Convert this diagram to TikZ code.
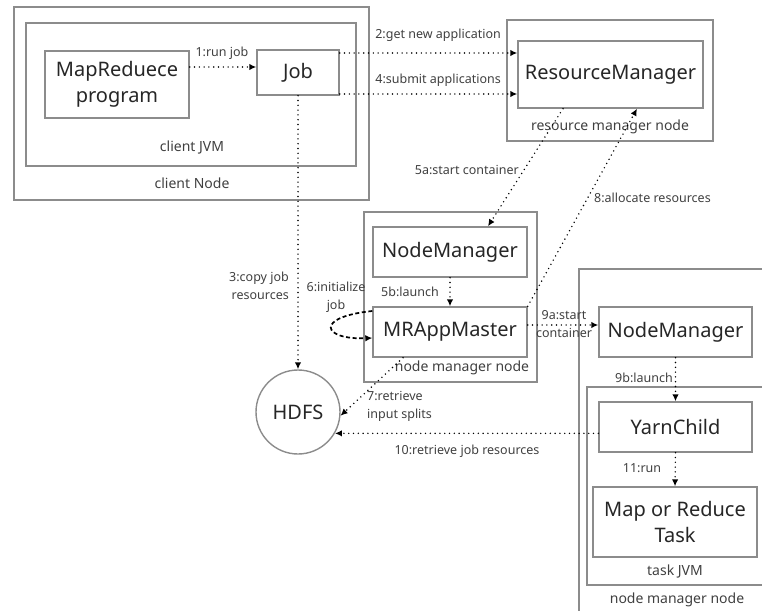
\documentclass[tikz,border=0pt]{standalone}
\usepackage{fontspec}
\setmainfont{Noto Sans}
\usepackage{tikz}
\usetikzlibrary{arrows.meta}

\begin{document}
\begin{tikzpicture}[x=1pt, y=-1pt, >={Latex[length=7pt, width=6.5pt]},
    box/.style={draw=black!45, line width=1.4pt, inner sep=0pt, align=center, text=black!85, font=\fontsize{20}{26}\selectfont},
    frame/.style={draw=black!45, line width=1.4pt, inner sep=0pt},
    tag/.style={text=black!75, font=\fontsize{14}{17}\selectfont, inner sep=0pt},
    lbl/.style={text=black!75, font=\fontsize{12.5}{18}\selectfont, inner sep=0pt},
    flow/.style={->, line width=1.6pt, line cap=round, dash pattern=on 0pt off 4.8pt},
    initflow/.style={->, line width=1.7pt, dash pattern=on 4pt off 2.6pt}]
    \useasboundingbox (0,0) rectangle (762,610);
    \clip (0,0) rectangle (762,610);
    % containers
    \node[frame, minimum width=355pt, minimum height=193pt] (clientnode) at (191.5,103.5) {};
    \node[frame, minimum width=330pt, minimum height=143pt] (clientjvm) at (191,94.5) {};
    \node[frame, minimum width=206pt, minimum height=121pt] (rmnode) at (610,80.5) {};
    \node[frame, minimum width=173pt, minimum height=170pt] (nmnode) at (450.5,297) {};
    \node[frame, minimum width=200pt, minimum height=361pt] (nmnodeb) at (679,449.5) {};
    \node[frame, minimum width=188pt, minimum height=198pt] (taskjvm) at (681,486) {};
    \node[tag] (jvmtag) at (192,148) {client JVM};
    \node[tag] (clienttag) at (192,183) {client Node};
    \node[tag] (rmtag) at (610,127) {resource manager node};
    \node[tag] (nmtag) at (462,368) {node manager node};
    \node[tag] (tasktag) at (675,572) {task JVM};
    \node[tag] (nmtagb) at (677,600) {node manager node};
    % boxes
    \node[box, minimum width=144pt, minimum height=67pt] (mrprog) at (117,84.5) {MapReduece\\program};
    \node[box, minimum width=82pt, minimum height=45pt] (job) at (298,72.5) {Job};
    \node[box, minimum width=185pt, minimum height=67pt] (rm) at (610.5,74.5) {ResourceManager};
    \node[box, minimum width=154pt, minimum height=50pt] (nm) at (450,252) {NodeManager};
    \node[box, minimum width=154pt, minimum height=50pt] (mram) at (450,332) {MRAppMaster};
    \node[box, circle, minimum size=84pt] (hdfs) at (298,412) {HDFS};
    \node[box, minimum width=153pt, minimum height=50pt] (nmb) at (675.5,332) {NodeManager};
    \node[box, minimum width=153pt, minimum height=50pt] (yarn) at (675.5,427) {YarnChild};
    \node[box, minimum width=164pt, minimum height=70pt] (task) at (675,522) {Map or Reduce\\Task};
    % connectors
    \draw[flow] (mrprog.east |- 0,67) -- (job.west |- 0,67);
    \draw[flow] (job.east |- 0,53) -- (rm.west |- 0,53);
    \draw[flow] (job.east |- 0,94) -- (rm.west |- 0,94);
    \draw[flow] (job.south) -- (hdfs.north);
    \draw[flow] (rm.south -| 563,0) -- (nm.north -| 488,0);
    \draw[flow] (nm.south) -- (mram.north);
    \draw[initflow] (mram.west |- 0,311) .. controls (314,317) and (322,340) .. (mram.west |- 0,338);
    \draw[flow] (mram.north east) -- (rm.south -| 637,0);
    \draw[flow] (mram.south -| 403,0) -- (hdfs.-5);
    \draw[flow] (mram.east |- 0,325) -- (nmb.west |- 0,325);
    \draw[flow] (nmb.south) -- (yarn.north);
    \draw[flow] (yarn.west |- hdfs.-30) -- (hdfs.-30);
    \draw[flow] (yarn.south) -- (task.north);
    % labels
    \node[lbl] (l1) at (222,53) {1:run job};
    \node[lbl, anchor=east] (l2) at (501,35) {2:get new application};
    \node[lbl, anchor=east] (l4) at (501,80) {4:submit applications};
    \node[lbl, anchor=east, align=right] (l3) at (289,286) {3:copy job\\resources};
    \node[lbl, anchor=east] (l5a) at (519,170) {5a:start container};
    \node[lbl, anchor=west] (l8) at (594,198) {8:allocate resources};
    \node[lbl] (l5b) at (410,292) {5b:launch};
    \node[lbl, align=center] (l6) at (336,297) {6:initialize\\job};
    \node[lbl, anchor=west, align=left] (l7) at (367,406) {7:retrieve\\input splits};
    \node[lbl] (l10) at (467,451) {10:retrieve job resources};
    \node[lbl, align=center] (l9a) at (564,324) {9a:start\\container};
    \node[lbl, anchor=east] (l9b) at (673,378) {9b:launch};
    \node[lbl] (l11) at (642,468) {11:run};
\end{tikzpicture}
\end{document}
